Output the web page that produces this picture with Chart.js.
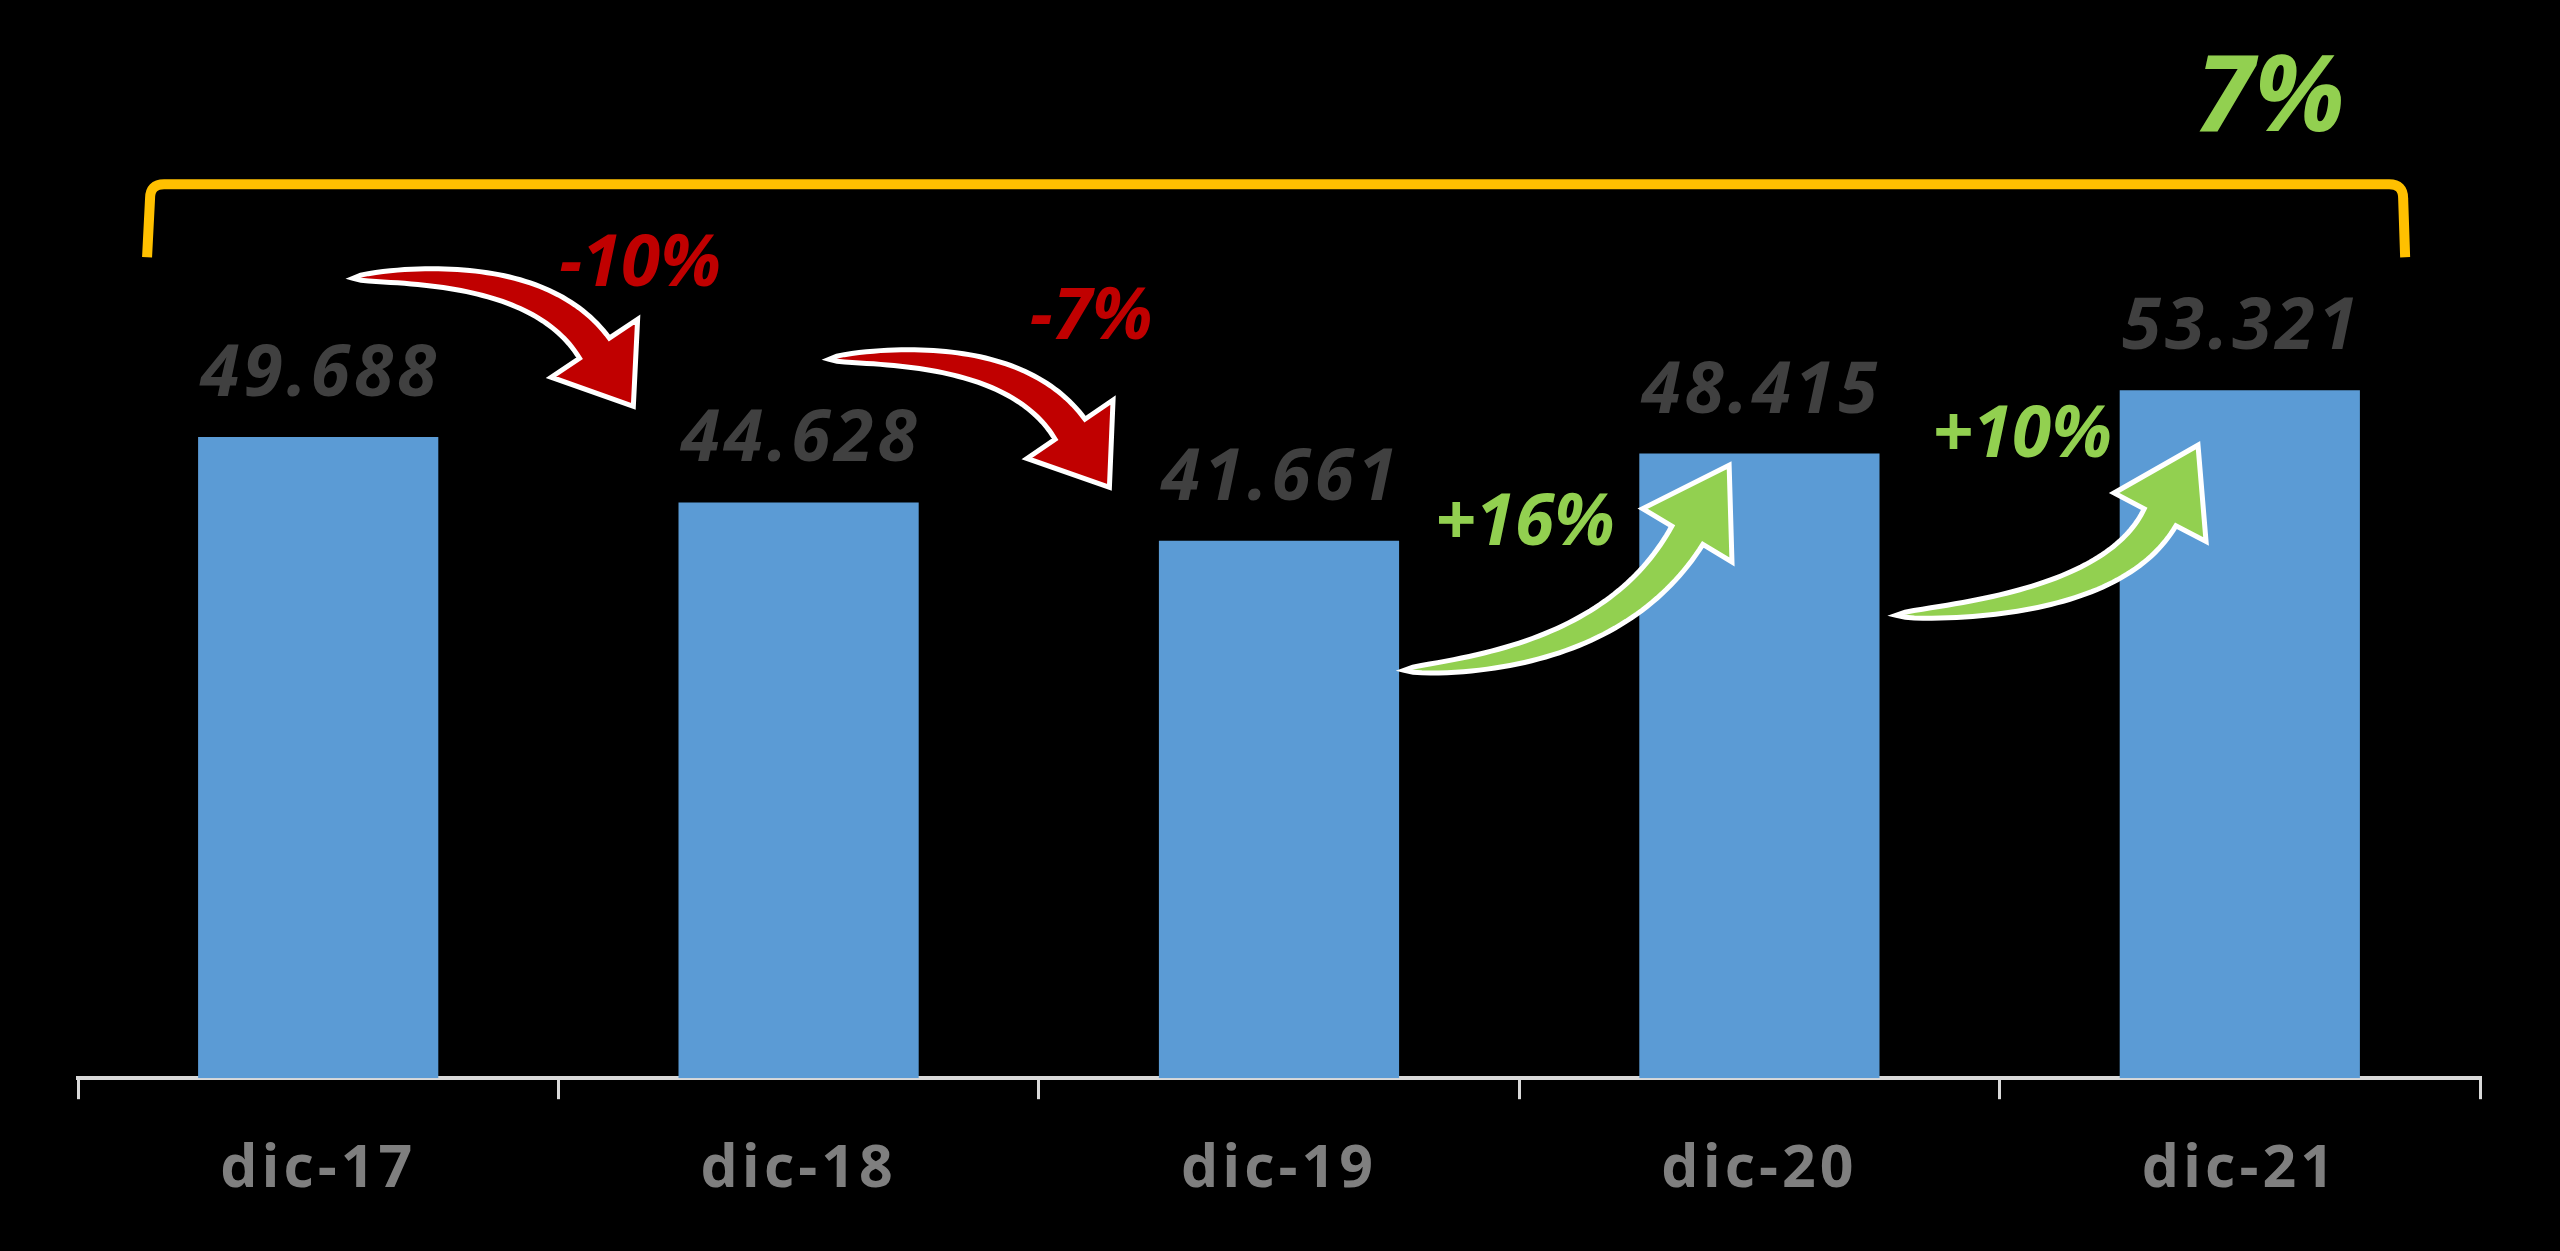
<!DOCTYPE html>
<html>
<head>
<meta charset="utf-8">
<script src="https://cdn.jsdelivr.net/npm/chart.js@4.4.1/dist/chart.umd.min.js"></script>
<style>
    html, body { margin: 0; padding: 0; background: #000; }
    #wrap { width: 2560px; height: 1251px; position: relative; }
</style>
</head>
<body>
<div id="wrap"><canvas id="ventasChart"></canvas></div>
<script>
// Datos
const categories = ['dic-17', 'dic-18', 'dic-19', 'dic-20', 'dic-21'];
const values = [49688, 44628, 41661, 48415, 53321];
const stepLabels = ['-10%', '-7%', '+16%', '+10%'];
const totalLabel = '7%';

const FONT = "'Open Sans', sans-serif";

// Posiciones de las anotaciones: [indice de categoria, valor]
const stepTextPos = [[0.670, 61380], [1.609, 57273], [2.512, 41308], [3.547, 48128]];
const totalTextPos = [4.063, 73393];
const bracket = { left: -0.35, right: 4.34, top: 69285, bottom: 63628 };
const arrows = [
    { tail: [0.073, 62000], ctrl: [0.458, 63008], base: [0.575, 56575], tip: [0.656, 52080], color: '#C00000' },
    { tail: [1.064, 55722], ctrl: [1.449, 56730], base: [1.565, 50297], tip: [1.647, 45802], color: '#C00000' },
    { tail: [2.261, 31620], ctrl: [2.696, 32395], base: [2.850, 42082], tip: [2.937, 47507], color: '#92D050' },
    { tail: [3.285, 35883], ctrl: [3.736, 36658], base: [3.834, 43478], tip: [3.913, 49058], color: '#92D050' }
];

function fmtMiles(v) {
    return String(v).replace(/\B(?=(\d{3})+(?!\d))/g, '.');
}

function drawArrow(ctx, a, P) {
    const p0 = P(a.tail), p1 = P(a.ctrl), p2 = P(a.base), tip = P(a.tip);
    const N = 48, shaft = 36, head = 52;
    const left = [], right = [];
    for (let i = 0; i <= N; i++) {
        const t = i / N, u = 1 - t;
        const x = u * u * p0.x + 2 * u * t * p1.x + t * t * p2.x;
        const y = u * u * p0.y + 2 * u * t * p1.y + t * t * p2.y;
        const dx = 2 * u * (p1.x - p0.x) + 2 * t * (p2.x - p1.x);
        const dy = 2 * u * (p1.y - p0.y) + 2 * t * (p2.y - p1.y);
        const len = Math.hypot(dx, dy) || 1;
        const nx = -dy / len, ny = dx / len;
        const w = shaft / 2 * Math.pow(t, 0.5);
        left.push([x + nx * w, y + ny * w]);
        right.push([x - nx * w, y - ny * w]);
    }
    const dl = Math.hypot(tip.x - p2.x, tip.y - p2.y);
    const hx = -(tip.y - p2.y) / dl, hy = (tip.x - p2.x) / dl;
    ctx.beginPath();
    ctx.moveTo(left[0][0], left[0][1]);
    for (let i = 1; i <= N; i++) ctx.lineTo(left[i][0], left[i][1]);
    ctx.lineTo(p2.x + hx * head, p2.y + hy * head);
    ctx.lineTo(tip.x, tip.y);
    ctx.lineTo(p2.x - hx * head, p2.y - hy * head);
    for (let i = N; i >= 0; i--) ctx.lineTo(right[i][0], right[i][1]);
    ctx.closePath();
    ctx.fillStyle = a.color;
    ctx.fill();
    ctx.lineWidth = 5;
    ctx.lineJoin = 'miter';
    ctx.strokeStyle = '#FFFFFF';
    ctx.stroke();
}

function drawText(ctx, text, x, y, font, color, spacing) {
    ctx.font = font;
    ctx.fillStyle = color;
    ctx.letterSpacing = spacing + 'px';
    ctx.textAlign = 'center';
    ctx.textBaseline = 'alphabetic';
    ctx.fillText(text, x + spacing / 2, y);
}

const overlay = {
    id: 'overlay',
    beforeDraw(chart) {
        const ctx = chart.ctx;
        ctx.save();
        ctx.fillStyle = '#000';
        ctx.fillRect(0, 0, chart.width, chart.height);
        ctx.restore();
        ctx.letterSpacing = '4px';
    },
    afterDatasetsDraw(chart) {
        const ctx = chart.ctx;
        const xs = chart.scales.x, ys = chart.scales.y;
        const P = (p) => ({ x: xs.getPixelForValue(p[0]), y: ys.getPixelForValue(p[1]) });
        ctx.save();

        // etiquetas de valor
        chart.getDatasetMeta(0).data.forEach((bar, i) => {
            drawText(ctx, fmtMiles(values[i]), bar.x, bar.y - 41,
                'italic bold 71px ' + FONT, '#404040', 4);
        });

        // llave superior
        const l = xs.getPixelForValue(bracket.left), r = xs.getPixelForValue(bracket.right);
        const t = ys.getPixelForValue(bracket.top), b = ys.getPixelForValue(bracket.bottom);
        const rad = 14;
        ctx.beginPath();
        ctx.moveTo(l - 3, b);
        ctx.lineTo(l, t + rad);
        ctx.quadraticCurveTo(l, t, l + rad, t);
        ctx.lineTo(r - rad, t);
        ctx.quadraticCurveTo(r, t, r, t + rad);
        ctx.lineTo(r + 2, b);
        ctx.strokeStyle = '#FFC000';
        ctx.lineWidth = 10;
        ctx.lineCap = 'butt';
        ctx.stroke();

        // flechas
        arrows.forEach(a => drawArrow(ctx, a, P));

        // variaciones
        stepLabels.forEach((s, i) => {
            const p = P(stepTextPos[i]);
            drawText(ctx, s, p.x, p.y, 'italic bold 71px ' + FONT,
                s.startsWith('-') ? '#C00000' : '#92D050', 0);
        });
        const tp = P(totalTextPos);
        drawText(ctx, totalLabel, tp.x, tp.y, 'italic bold 106px ' + FONT, '#92D050', 0);

        ctx.restore();
    }
};

const ctx = document.getElementById('ventasChart').getContext('2d');
const ventasChart = new Chart(ctx, {
    type: 'bar',
    data: {
        labels: categories,
        datasets: [{
            data: values,
            backgroundColor: '#5B9BD5',
            categoryPercentage: 1,
            barPercentage: 0.5
        }]
    },
    options: {
        responsive: true,
        maintainAspectRatio: false,
        devicePixelRatio: 1,
        animation: false,
        layout: {
            padding: { top: 46, left: 78, right: 80, bottom: 9 }
        },
        plugins: {
            legend: { display: false },
            tooltip: { enabled: false }
        },
        scales: {
            x: {
                grid: {
                    display: true,
                    drawOnChartArea: false,
                    drawTicks: true,
                    tickLength: 21,
                    color: '#D9D9D9',
                    lineWidth: 3,
                    offset: true
                },
                border: { display: true, color: '#D9D9D9', width: 4 },
                ticks: {
                    color: '#7F7F7F',
                    padding: 36,
                    font: { family: FONT, size: 59, weight: 'bold' }
                }
            },
            y: {
                display: false,
                min: 0,
                max: 80000
            }
        }
    },
    plugins: [overlay]
});
</script>
</body>
</html>
